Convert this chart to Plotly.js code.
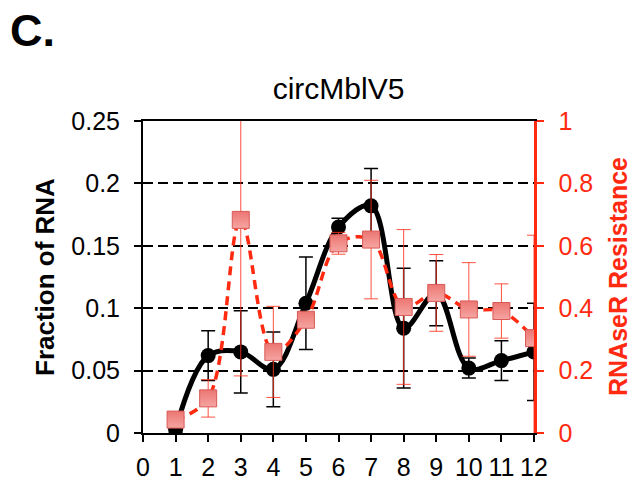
<!DOCTYPE html>
<html>
<head>
<meta charset="utf-8">
<script src="https://cdn.plot.ly/plotly-3.0.1.min.js"></script>
<style>html,body{margin:0;padding:0;background:#fff;}#chart{width:634px;height:485px;}</style>
</head>
<body>
<div id="chart"></div>
<script>
const fractions = [1, 2, 3, 4, 5, 6, 7, 8, 9, 10, 11, 12];
const fractionOfRNA = [0.003, 0.062, 0.065, 0.051, 0.104, 0.165, 0.182, 0.084, 0.112, 0.052, 0.058, 0.065];
const fractionOfRNAErr = [0.003, 0.02, 0.033, 0.03, 0.037, 0.007, 0.03, 0.048, 0.026, 0.008, 0.016, 0.039];
const rnaseRResistance = [0.043, 0.111, 0.683, 0.26, 0.363, 0.608, 0.62, 0.404, 0.449, 0.396, 0.391, 0.304];
const rnaseRResistanceErr = [0.01, 0.06, 0.5, 0.146, 0.02, 0.035, 0.19, 0.248, 0.123, 0.15, 0.087, 0.33];
const xTickVals = [0, 1, 2, 3, 4, 5, 6, 7, 8, 9, 10, 11, 12];
const leftTickVals = [0, 0.05, 0.1, 0.15, 0.2, 0.25];
const leftTickText = ['0', '0.05', '0.1', '0.15', '0.2', '0.25'];
const rightTickVals = [0, 0.2, 0.4, 0.6, 0.8, 1];
const rightTickText = ['0', '0.2', '0.4', '0.6', '0.8', '1'];

const FONT = 'Liberation Sans, Arial, Helvetica, sans-serif';
const RED = '#ff2a10';

const traces = [
  {
    x: fractions, y: fractionOfRNA, type: 'scatter', mode: 'lines+markers',
    line: {color: '#000', width: 5, shape: 'spline', smoothing: 1},
    marker: {symbol: 'circle', size: 15, color: '#000'},
    error_y: {type: 'data', array: fractionOfRNAErr, visible: true, color: '#000', thickness: 1.5, width: 7},
    yaxis: 'y', hoverinfo: 'skip'
  },
  {
    x: fractions, y: rnaseRResistance, type: 'scatter', mode: 'lines+markers',
    line: {color: RED, width: 3.5, dash: '9px,6px', shape: 'spline', smoothing: 1},
    marker: {symbol: 'square', size: 17, color: '#ec7672', line: {color: '#d85a56', width: 1},
             gradient: {type: 'vertical', color: '#f5a5a2'}},
    error_y: {type: 'data', array: rnaseRResistanceErr, visible: true, color: 'rgba(255,50,30,0.85)', thickness: 1, width: 7},
    yaxis: 'y2', hoverinfo: 'skip'
  }
];

const layout = {
  width: 634, height: 485,
  margin: {l: 143, r: 100, t: 121, b: 52, pad: 0},
  paper_bgcolor: '#fff', plot_bgcolor: '#fff',
  showlegend: false,
  font: {family: FONT, size: 25, color: '#000'},
  xaxis: {
    range: [0, 12], tickvals: xTickVals, ticktext: xTickVals.map(String),
    showgrid: false, zeroline: false,
    showline: true, linecolor: '#000', linewidth: 2, mirror: true,
    ticks: 'outside', ticklen: 7, tickwidth: 2, tickcolor: '#000',
    ticklabelstandoff: 4,
    tickfont: {family: FONT, size: 25, color: '#000'}, fixedrange: true
  },
  yaxis: {
    range: [0, 0.25], tickvals: leftTickVals, ticktext: leftTickText,
    showgrid: true, gridcolor: '#000', gridwidth: 2, griddash: '10px,5px',
    zeroline: false, showline: true, linecolor: '#000', linewidth: 2,
    ticks: 'outside', ticklen: 7, tickwidth: 2, tickcolor: '#000',
    ticklabelstandoff: 9,
    tickfont: {family: FONT, size: 25, color: '#000'}, fixedrange: true
  },
  yaxis2: {
    range: [0, 1], tickvals: rightTickVals, ticktext: rightTickText,
    overlaying: 'y', side: 'right', showgrid: false, zeroline: false,
    showline: true, linecolor: RED, linewidth: 2.5,
    ticks: 'outside', ticklen: 7, tickwidth: 2, tickcolor: RED,
    ticklabelstandoff: 10,
    tickfont: {family: FONT, size: 25, color: RED}, fixedrange: true
  },
  title: {
    text: 'circMblV5', font: {family: FONT, size: 30, color: '#000'},
    xref: 'paper', x: 0.5, xanchor: 'center',
    yref: 'container', y: 1 - 88 / 485, yanchor: 'middle'
  },
  annotations: [
    {text: '<b>C.</b>', xref: 'paper', yref: 'paper', x: (8 - 143) / 391, y: (433 - 31) / 312,
     xanchor: 'left', yanchor: 'middle', showarrow: false, font: {family: FONT, size: 45, color: '#000'}},
    {text: '<b>Fraction of RNA</b>', xref: 'paper', yref: 'paper', x: (45 - 143) / 391, y: 0.5,
     xanchor: 'center', yanchor: 'middle', textangle: -90, showarrow: false,
     font: {family: FONT, size: 26, color: '#000'}},
    {text: '<b>RNAseR Resistance</b>', xref: 'paper', yref: 'paper', x: (618 - 143) / 391, y: 0.5,
     xanchor: 'center', yanchor: 'middle', textangle: -90, showarrow: false,
     font: {family: FONT, size: 25, color: RED}}
  ]
};

Plotly.newPlot('chart', traces, layout, {staticPlot: true, displayModeBar: false});
</script>
</body>
</html>
